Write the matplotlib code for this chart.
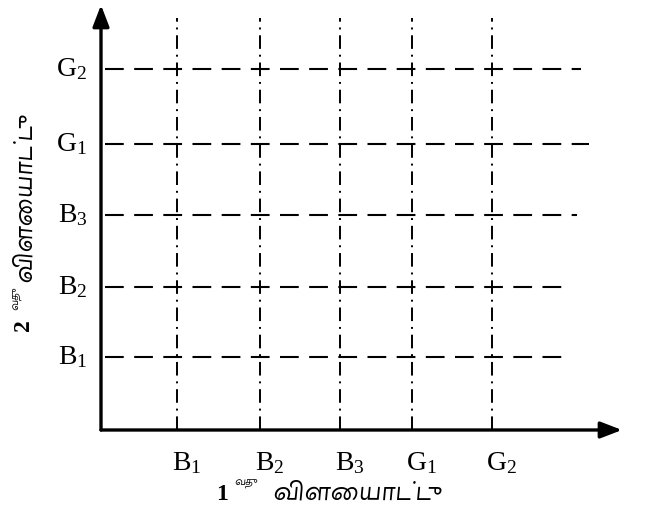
import matplotlib
matplotlib.use("Agg")
import matplotlib.pyplot as plt
from matplotlib import font_manager
from matplotlib.ft2font import FT2Font

# ---- data ----
x_labels = ["B$_1$", "B$_2$", "B$_3$", "G$_1$", "G$_2$"]
x_pos = [0.95, 1.99, 2.99, 3.89, 4.89]
y_labels = ["B$_1$", "B$_2$", "B$_3$", "G$_1$", "G$_2$"]
y_pos = [1.01, 1.99, 2.99, 3.97, 5.01]
h_end = [5.8, 5.85, 5.95, 6.1, 6.0]
x_title_num = "1"
y_title_num = "2"
title_sup = "வது"
title_word = "விளையாட்டு"

# find fonts with Tamil glyphs, prefer Noto Sans Tamil
cands = []
for f in font_manager.fontManager.ttflist:
    try:
        cm = FT2Font(f.fname).get_charmap()
        if 0x0BB5 in cm and 0x0BC8 in cm:
            cands.append(f)
    except Exception:
        pass
cands.sort(key=lambda f: (0 if "Tamil" in f.name else 1,
                          0 if f.weight in (700, "bold") else 1))
tamil_font = cands[0].name if cands else None
tfam = [tamil_font, "DejaVu Sans"] if tamil_font else ["DejaVu Sans"]

plt.rcParams["mathtext.fontset"] = "custom"
plt.rcParams["mathtext.rm"] = "Liberation Serif"
plt.rcParams["mathtext.it"] = "Liberation Serif"
plt.rcParams["font.family"] = "Liberation Serif"

W, H = 648, 520
fig = plt.figure(figsize=(W / 100, H / 100), dpi=100)
ax = fig.add_axes([101 / W, (H - 430) / H, (622 - 101) / W, (430 - 5) / H])
ax.set_xlim(0, 521 / 80)
ax.set_ylim(0, 425 / 72)
ax.axis("off")

# grid lines
for xp in x_pos:
    ax.plot([xp, xp], [0, 5.72], color="black", lw=1.4, ls=(0, (7, 3, 1, 3)))
for yp, he in zip(y_pos, h_end):
    ax.plot([0.05, he], [yp, yp], color="black", lw=1.5, ls=(0, (9, 5)))

# axes with arrows
arrow = dict(arrowstyle="-|>,head_length=1.3,head_width=0.5", color="black",
             lw=2.4, shrinkA=0, shrinkB=0)
ax.annotate("", xy=(521 / 80, 0), xytext=(0, 0), arrowprops=arrow,
            annotation_clip=False)
ax.annotate("", xy=(0, 425 / 72), xytext=(0, 0), arrowprops=arrow,
            annotation_clip=False)

# tick labels
for xp, lab in zip(x_pos, x_labels):
    ax.text(xp + 0.12, -0.46, lab, ha="center", va="center", fontsize=20)
for yp, lab in zip(y_pos, y_labels):
    ax.text(-0.17, yp, lab, ha="right", va="center", fontsize=20)

# x title
fig.text(222 / W, 1 - 494 / H, x_title_num, fontsize=17, fontweight="bold",
         ha="center", va="center", family="Liberation Serif")
fig.text(234 / W, 1 - 484 / H, title_sup, fontsize=8, fontweight="bold",
         ha="left", va="center", family=tfam)
fig.text(272 / W, 1 - 493 / H, title_word, fontsize=19, fontweight="bold",
         ha="left", va="center", family=tfam)

# y title (rotated)
fig.text(24 / W, 1 - 325 / H, y_title_num, fontsize=17, fontweight="bold",
         ha="center", va="center", rotation=90, family="Liberation Serif")
fig.text(17 / W, 1 - 310 / H, title_sup, fontsize=8, fontweight="bold",
         ha="center", va="bottom", rotation=90, family=tfam)
fig.text(24 / W, 1 - 198 / H, title_word, fontsize=19, fontweight="bold",
         ha="center", va="center", rotation=90, family=tfam)

fig.savefig("out.png", dpi=100)
